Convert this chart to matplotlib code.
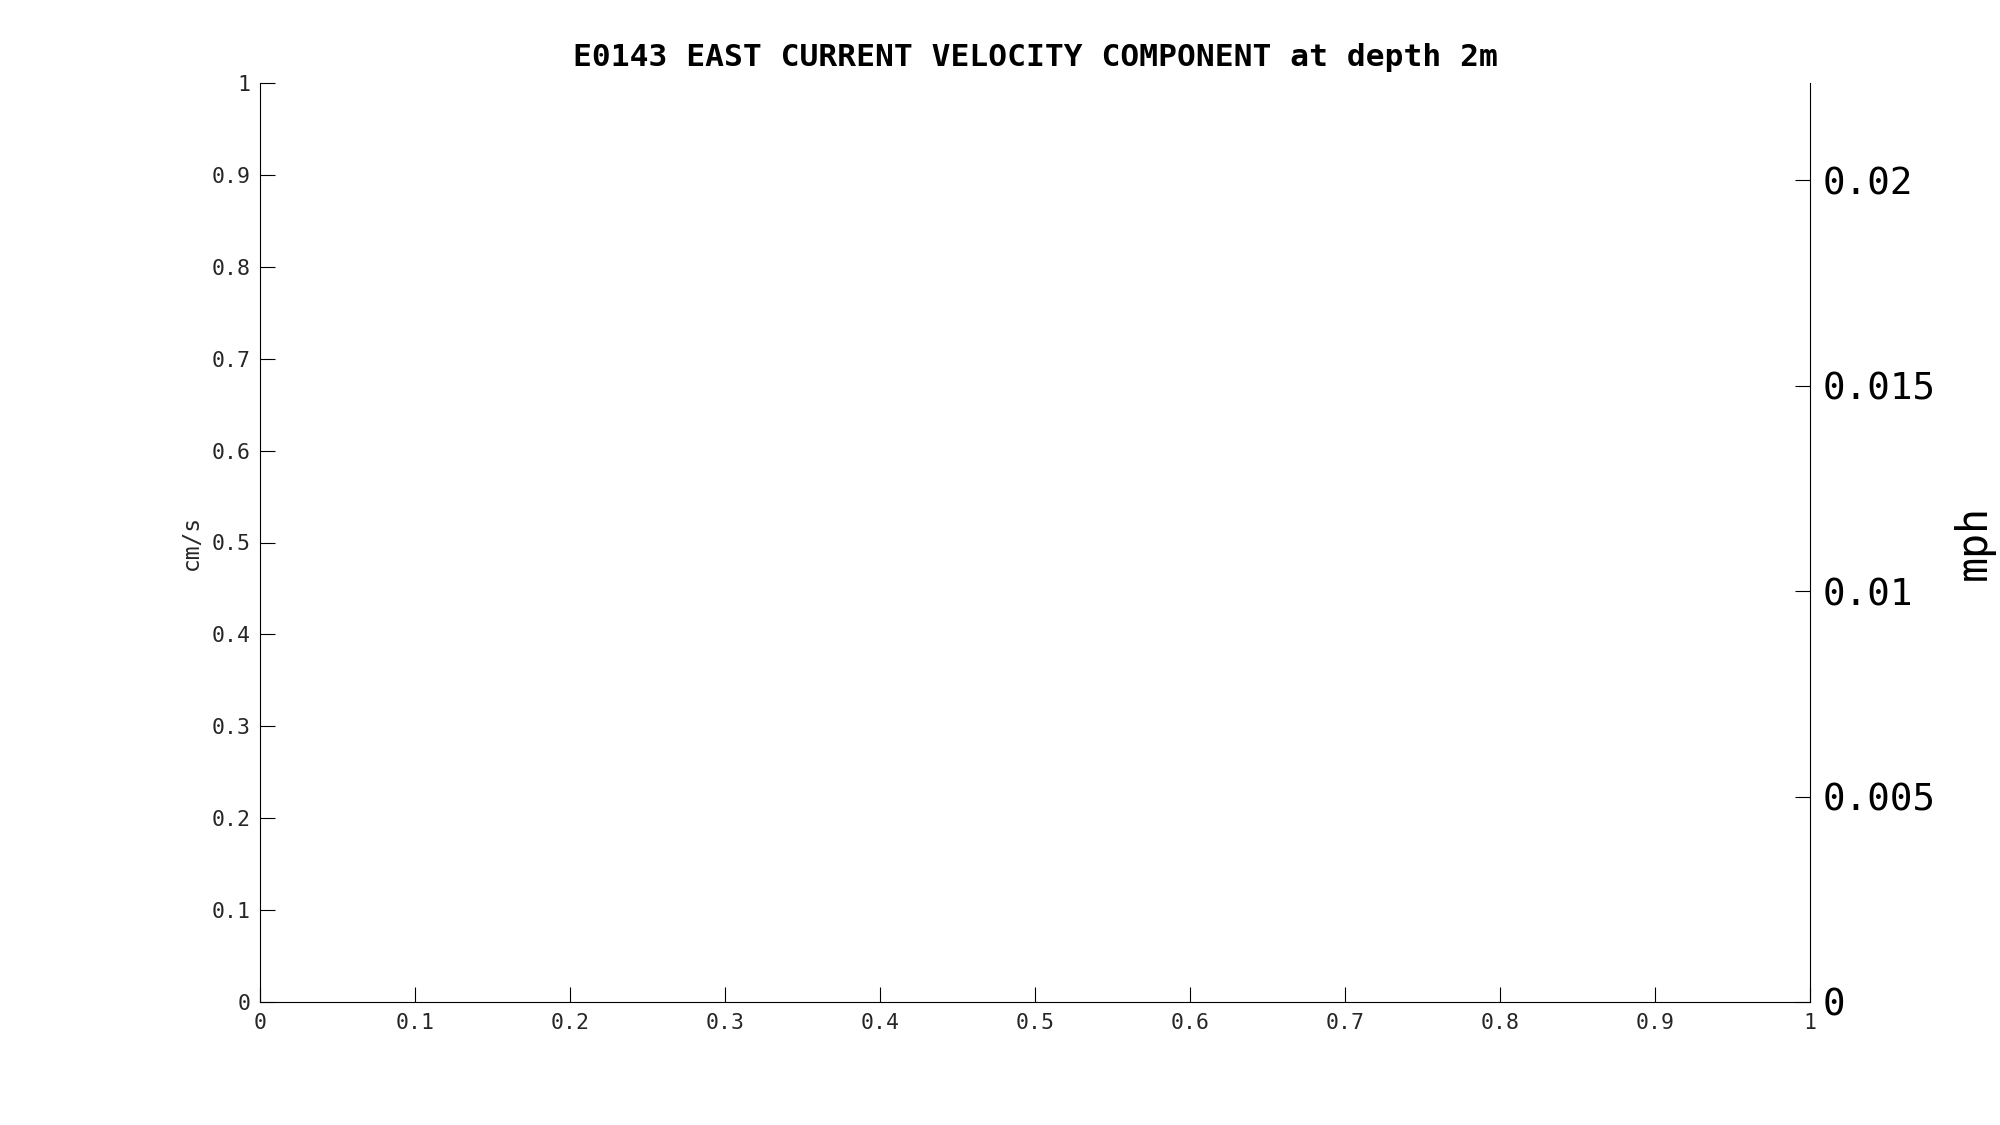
import matplotlib
matplotlib.use('Agg')
import matplotlib.pyplot as plt
from matplotlib.ticker import FuncFormatter

title = 'E0143 EAST CURRENT VELOCITY COMPONENT at depth 2m'
left_label = 'cm/s'
right_label = 'mph'

x_limits = [0, 1]
y_limits = [0, 1]          # cm/s
cms_to_mph = 0.0223694     # 1 cm/s in mph
x_ticks = [0, 0.1, 0.2, 0.3, 0.4, 0.5, 0.6, 0.7, 0.8, 0.9, 1]
y_ticks = [0, 0.1, 0.2, 0.3, 0.4, 0.5, 0.6, 0.7, 0.8, 0.9, 1]
mph_ticks = [0, 0.005, 0.01, 0.015, 0.02]

plt.rcParams['font.family'] = ['DejaVu Sans Mono']

fig = plt.figure(figsize=(20, 11.25), dpi=100)
ax = fig.add_axes([260 / 2000, 1 - 1002 / 1125, 1550 / 2000, 919 / 1125])

ax.set_xlim(x_limits)
ax.set_ylim(y_limits)
ax.set_xticks(x_ticks)
ax.set_yticks(y_ticks)
fmt = FuncFormatter(lambda v, p: '%g' % v)
ax.xaxis.set_major_formatter(fmt)
ax.yaxis.set_major_formatter(fmt)
ax.tick_params(direction='in', length=11, width=0.8, labelsize=15.5,
               labelcolor='#262626', pad=7)
ax.tick_params(axis='x', pad=8)
ax.spines['top'].set_visible(False)
ax.spines['right'].set_visible(False)
for s in ['left', 'bottom']:
    ax.spines[s].set_linewidth(0.8)
ax.set_ylabel(left_label, fontsize=16.5, color='#262626', labelpad=6)
ax.set_title(title, fontsize=22.5, fontweight='bold', pad=12)

ax2 = ax.twinx()
ax2.set_ylim(y_limits[0] * cms_to_mph, y_limits[1] * cms_to_mph)
ax2.set_yticks(mph_ticks)
ax2.yaxis.set_major_formatter(fmt)
ax2.tick_params(direction='in', length=11, width=0.8, labelsize=27, pad=9)
ax2.spines['top'].set_visible(False)
ax2.spines['left'].set_visible(False)
ax2.spines['bottom'].set_visible(False)
ax2.spines['right'].set_linewidth(0.8)
ax2.set_ylabel(right_label, fontsize=30, labelpad=12)

fig.savefig('out.png', dpi=100)
